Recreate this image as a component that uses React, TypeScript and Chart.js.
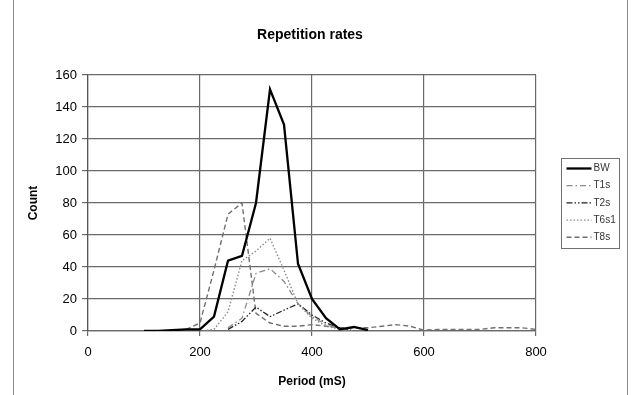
import { useEffect, useRef } from "react";
import { Chart, registerables } from "chart.js";

Chart.register(...registerables);

// ---- data ----
const periods = [100, 125, 150, 175, 200, 225, 250, 275, 300, 325, 350, 375, 400, 425, 450, 475, 500, 525, 550, 575, 600, 625, 650, 675, 700, 725, 750, 775, 800];
const bwCounts = [0, 0, 0.5, 1, 1, 9, 44, 47, 80, 151, 129, 42, 20, 8, 1, 2.5, 0.5, null, null, null, null, null, null, null, null, null, null, null, null];
const t1sCounts = [null, null, null, null, null, null, 2, 8, 36, 39, 31, 17, 9, 4, 1, 0, null, null, null, null, null, null, null, null, null, null, null, null, null];
const t2sCounts = [null, null, null, null, null, null, 1, 6, 15, 9, 13, 17, 10, 5, 2, 0, null, null, null, null, null, null, null, null, null, null, null, null, null];
const t6s1Counts = [null, null, null, null, 0, 1, 12, 44, 50, 58, 38, 17, 8, 3, 1, 0, null, null, null, null, null, null, null, null, null, null, null, null, null];
const t8sCounts = [null, null, null, 1, 5, 38, 73, 80, 11, 5, 3, 3, 4, 3, 2, 2, 2, 3, 4, 3, 0.5, 1, 1, 1, 1, 2, 2, 2, 1];

const seriesNames = ["BW", "T1s", "T2s", "T6s1", "T8s"];
const seriesValues = [bwCounts, t1sCounts, t2sCounts, t6s1Counts, t8sCounts];
const seriesColors = ["#000000", "#8a8a8a", "#222222", "#8c8c8c", "#707070"];
const seriesWidths = [2.3, 1.3, 1.3, 1.4, 1.4];
const seriesDashes: number[][] = [[], [6, 3, 1.5, 3], [6, 2, 1.5, 2, 1.5, 2], [1.5, 2], [5, 3]];

const titleText = "Repetition rates";
const xTitle = "Period (mS)";
const yTitle = "Count";
const xMin = 0, xMax = 800, xStep = 200;
const yMin = 0, yMax = 160, yStep = 20;

const FONT = "'Liberation Sans', Arial, sans-serif";

const frameAndLegend = {
  id: "frameAndLegend",
  afterDraw(chart: any) {
    const ctx = chart.ctx as CanvasRenderingContext2D;
    const area = chart.chartArea;
    ctx.save();
    // outer frame lines
    ctx.strokeStyle = "#8a8a8a";
    ctx.lineWidth = 1;
    ctx.beginPath();
    ctx.moveTo(13.5, 0);
    ctx.lineTo(13.5, chart.height);
    ctx.moveTo(627.5, 0);
    ctx.lineTo(627.5, chart.height);
    ctx.stroke();

    // legend box
    const ds = chart.data.datasets;
    const bx = area.right + 25.5;
    const rowH = 17.2;
    const by = 158.5;
    const bw = 58;
    const bh = rowH * ds.length + 4;
    ctx.fillStyle = "#ffffff";
    ctx.fillRect(bx, by, bw, bh);
    ctx.strokeStyle = "#707070";
    ctx.lineWidth = 1;
    ctx.strokeRect(bx, by, bw, bh);
    ctx.font = `10px ${FONT}`;
    ctx.textBaseline = "middle";
    ctx.textAlign = "left";
    ds.forEach((d: any, i: number) => {
      const cy = by + 10 + i * rowH;
      ctx.beginPath();
      ctx.setLineDash(d.borderDash || []);
      ctx.strokeStyle = d.borderColor;
      ctx.lineWidth = d.borderWidth;
      ctx.moveTo(bx + 5, cy);
      ctx.lineTo(bx + 30, cy);
      ctx.stroke();
      ctx.setLineDash([]);
      ctx.fillStyle = "#333333";
      ctx.fillText(d.label, bx + 32, cy);
    });
    ctx.restore();
  },
};

export default function App() {
  const ref = useRef<HTMLCanvasElement | null>(null);

  useEffect(() => {
    if (!ref.current) return;
    const datasets = seriesNames.map((name, i) => ({
      label: name,
      data: periods
        .map((p, j) => ({ x: p, y: seriesValues[i][j] as number | null }))
        .filter((pt) => pt.y !== null),
      borderColor: seriesColors[i],
      backgroundColor: seriesColors[i],
      borderWidth: seriesWidths[i],
      borderDash: seriesDashes[i],
      pointRadius: 0,
      tension: 0,
      fill: false,
    }));

    const chart = new Chart(ref.current, {
      type: "line",
      data: { datasets },
      options: {
        animation: false,
        responsive: false,
        layout: { padding: { left: 0, right: 12, top: 0, bottom: 0 } },
        plugins: {
          legend: { display: false },
          tooltip: { enabled: false },
          title: {
            display: true,
            text: titleText,
            color: "#000",
            font: { family: FONT, size: 14, weight: "bold" },
            padding: { top: 26.6, bottom: 31.6 },
          },
        },
        scales: {
          x: {
            type: "linear",
            min: xMin,
            max: xMax,
            afterFit: (s: any) => {
              s.height = 64;
            },
            ticks: {
              stepSize: xStep,
              color: "#000",
              font: { family: FONT, size: 13 },
              padding: 9,
              maxRotation: 0,
            },
            grid: { color: "#6a6a6a", lineWidth: 1.2, tickLength: 5, drawTicks: true },
            border: { color: "#6a6a6a", width: 1.2 },
            title: {
              display: true,
              text: xTitle,
              color: "#000",
              font: { family: FONT, size: 12, weight: "bold" },
              padding: { top: 0, bottom: 5.8 },
            },
          },
          y: {
            type: "linear",
            min: yMin,
            max: yMax,
            afterFit: (s: any) => {
              s.width = 88;
            },
            ticks: {
              stepSize: yStep,
              color: "#000",
              font: { family: FONT, size: 13 },
              padding: 5,
            },
            grid: { color: "#6a6a6a", lineWidth: 1.2, tickLength: 6, drawTicks: true },
            border: { color: "#555555", width: 1.2 },
            title: {
              display: true,
              text: yTitle,
              color: "#000",
              font: { family: FONT, size: 12, weight: "bold" },
              padding: { top: 26.8, bottom: 0 },
            },
          },
          spacer: {
            type: "linear",
            position: "right",
            display: true,
            afterFit: (s: any) => {
              s.width = 84;
            },
            ticks: { display: false },
            grid: { display: false, drawTicks: false },
            border: { display: false },
          },
        },
      },
      plugins: [frameAndLegend],
    } as any);
    return () => chart.destroy();
  }, []);

  return (
    <div style={{ position: "fixed", left: 0, top: 0, width: 632, height: 395, background: "#fff" }}>
      <canvas ref={ref} width={632} height={395} style={{ display: "block" }} />
    </div>
  );
}
